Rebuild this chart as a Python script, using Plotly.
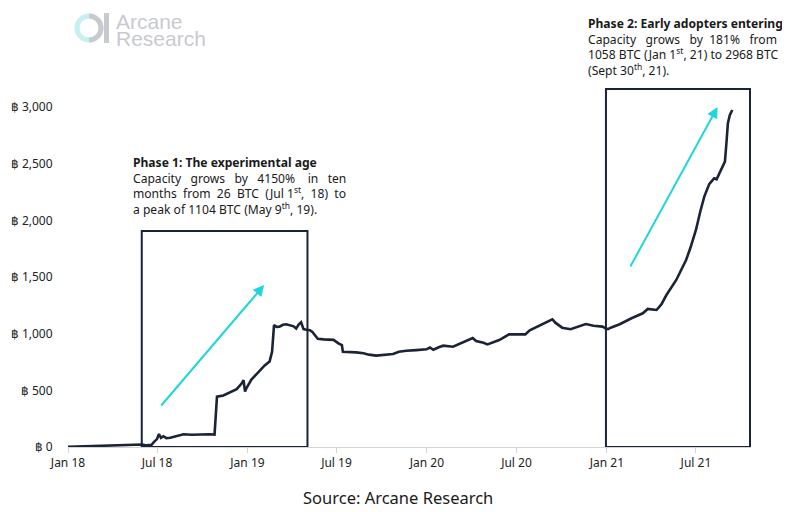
import re
import plotly.graph_objects as go

# ---------------- data ----------------
dates = [
    "2018-01-01", "2018-01-20", "2018-02-10", "2018-03-05", "2018-03-25", "2018-04-15",
    "2018-05-01", "2018-05-20", "2018-06-01", "2018-06-10", "2018-06-20", "2018-06-25",
    "2018-07-01", "2018-07-05", "2018-07-09", "2018-07-14", "2018-07-20", "2018-07-28",
    "2018-08-10", "2018-08-24", "2018-09-10", "2018-09-25", "2018-10-04", "2018-10-15",
    "2018-10-26", "2018-10-29", "2018-10-31", "2018-11-13", "2018-11-27", "2018-12-10",
    "2018-12-20", "2018-12-24", "2018-12-27", "2018-12-30", "2019-01-09", "2019-01-18",
    "2019-01-26", "2019-02-05", "2019-02-15", "2019-02-20", "2019-02-24", "2019-03-01",
    "2019-03-07", "2019-03-14", "2019-03-21", "2019-03-30", "2019-04-05", "2019-04-10",
    "2019-04-15", "2019-04-20", "2019-04-25", "2019-05-01", "2019-05-08", "2019-05-13",
    "2019-05-20", "2019-05-24", "2019-06-05", "2019-06-25", "2019-07-05", "2019-07-12",
    "2019-07-14", "2019-07-28", "2019-08-10", "2019-08-25", "2019-09-05", "2019-09-20",
    "2019-10-05", "2019-10-24", "2019-11-05", "2019-11-20", "2019-12-10", "2019-12-31",
    "2020-01-07", "2020-01-14", "2020-01-25", "2020-02-03", "2020-02-23", "2020-03-10",
    "2020-03-25", "2020-04-03", "2020-04-10", "2020-04-25", "2020-05-03", "2020-05-15",
    "2020-05-27", "2020-06-16", "2020-07-01", "2020-07-19", "2020-07-28", "2020-08-12",
    "2020-08-28", "2020-09-12", "2020-09-18", "2020-10-02", "2020-10-19", "2020-11-05",
    "2020-11-19", "2020-12-05", "2020-12-23", "2020-12-30", "2021-01-03", "2021-01-10",
    "2021-01-27", "2021-02-20", "2021-03-15", "2021-03-25", "2021-04-12", "2021-04-22",
    "2021-05-02", "2021-05-22", "2021-06-11", "2021-06-20", "2021-07-01", "2021-07-10",
    "2021-07-18", "2021-07-28", "2021-08-07", "2021-08-12", "2021-08-20", "2021-08-29",
    "2021-09-01", "2021-09-04", "2021-09-08", "2021-09-13",
]
capacity_btc = [
    1, 3, 5, 9, 12, 17,
    20, 21, 22, 14, 20, 45,
    70, 115, 80, 95, 78, 82,
    95, 112, 108, 112, 108, 113,
    110, 300, 444, 455, 480, 510,
    560, 590, 490, 520, 595, 640,
    680, 720, 755, 840, 1075, 1060,
    1062, 1078, 1083, 1070, 1065, 1045,
    1080, 1100, 1040, 1035, 1030, 1015,
    980, 955, 950, 945, 915, 900,
    840, 840, 835, 828, 815, 806,
    812, 821, 840, 850, 855, 862,
    878, 858, 880, 894, 885, 915,
    945, 962, 935, 920, 905, 925,
    944, 994, 995, 994, 1030, 1062,
    1095, 1127, 1097, 1053, 1039, 1065,
    1085, 1070, 1062, 1045, 1040, 1055,
    1083, 1136, 1180, 1218, 1209, 1260,
    1341, 1474, 1650, 1760, 1915, 2080,
    2209, 2320, 2371, 2362, 2440, 2518,
    2680, 2856, 2930, 2974,
]

y_tickvals = [0, 500, 1000, 1500, 2000, 2500, 3000]
y_ticktext = ["฿ 0", "฿ 500", "฿ 1,000", "฿ 1,500", "฿ 2,000", "฿ 2,500", "฿ 3,000"]
x_tickvals = ["2018-01-01", "2018-07-01", "2019-01-01", "2019-07-01",
              "2020-01-01", "2020-07-01", "2021-01-01", "2021-07-01"]
x_ticktext = ["Jan 18", "Jul 18", "Jan 19", "Jul 19", "Jan 20", "Jul 20", "Jan 21", "Jul 21"]

phase1_box = ["2018-05-31", "2019-05-03", 0, 1906]
phase2_box = ["2020-12-30", "2021-10-19", 0, 3159]
arrow1 = ["2018-07-07", 353, "2019-02-04", 1429]
arrow2 = ["2021-02-16", 1579, "2021-08-14", 3000]

phase1_title = "Phase 1: The experimental age"
phase1_lines = ["Capacity grows by 4150% in ten",
                "months from 26 BTC (Jul 1<sup>st</sup>, 18) to",
                "a peak of 1104 BTC (May 9<sup>th</sup>, 19)."]
phase2_title = "Phase 2: Early adopters entering"
phase2_lines = ["Capacity grows by 181% from",
                "1058 BTC (Jan 1<sup>st</sup>, 21) to 2968 BTC",
                "(Sept 30<sup>th</sup>, 21)."]
source_text = "Source: Arcane Research"
logo_lines = ["Arcane", "Research"]

# ---------------- layout helpers ----------------
# page is drawn with an 8px body margin, so the figure is shrunk by that amount
OFF = 8
SW, SH = 790, 512                       # screen size
L, R, T, B = 68, 751, 84, 447           # plot area on screen
W, H = SW - OFF, SH - OFF


def px(x):
    return (x - L) / (R - L)


def py(y):
    return (B - y) / (B - T)


# approximate Noto Sans advance widths (per 1000 em) for justification
WID = {" ": 260, "a": 561, "b": 615, "c": 480, "d": 615, "e": 564, "f": 344, "g": 615,
       "h": 618, "i": 258, "j": 258, "k": 548, "l": 258, "m": 937, "n": 618, "o": 605,
       "p": 615, "r": 413, "s": 479, "t": 361, "u": 618, "v": 508, "w": 781, "x": 529,
       "y": 510, "B": 633, "T": 556, "C": 632, "J": 270, "M": 907, "S": 549, "(": 296,
       ")": 296, "%": 826, ",": 258, ".": 268}


def measure(word, size):
    total = 0.0
    for part, sup in re.findall(r"([^<]+)|<sup>(.*?)</sup>", word):
        if part:
            total += sum(WID.get(c, 572) for c in part)
        if sup:
            total += 0.7 * sum(WID.get(c, 572) for c in sup)
    return total * size / 1000


def justify(line, width, size):
    words = line.split(" ")
    nat = sum(measure(w, size) for w in words)
    gaps = len(words) - 1
    sp = WID[" "] * size / 1000
    n = max(gaps, (width - nat) / sp)
    out = words[0]
    for i in range(gaps):
        c = max(1, round((i + 1) * n / gaps) - round(i * n / gaps))
        out += "\u00a0" * c + words[i + 1]
    return out


NAVY = "#1b2337"
CYAN = "#1fd6d8"
LOGO_GRAY = "#c9cad0"
TXT = "#1a1a1a"

fig = go.Figure()
fig.add_trace(go.Scatter(
    x=dates, y=capacity_btc, mode="lines",
    line=dict(color=NAVY, width=2.6), hoverinfo="skip", showlegend=False,
))

shapes = []
for bx in (phase1_box, phase2_box):
    shapes.append(dict(type="rect", xref="x", yref="y", x0=bx[0], x1=bx[1], y0=bx[2], y1=bx[3],
                       line=dict(color=NAVY, width=2), fillcolor="rgba(0,0,0,0)", layer="above"))

# logo: ring (cyan left, gray right) + vertical bar
cx, cy, r = 89.0, 28.0, 12.0
k = 0.5523 * r
shapes.append(dict(type="circle", xref="paper", yref="paper",
                   x0=px(cx - r), x1=px(cx + r), y0=py(cy + r), y1=py(cy - r),
                   line=dict(color="#c6f0f2", width=5)))
arc = (f"M {px(cx)},{py(cy - r)} "
       f"C {px(cx + k)},{py(cy - r)} {px(cx + r)},{py(cy - k)} {px(cx + r)},{py(cy)} "
       f"C {px(cx + r)},{py(cy + k)} {px(cx + k)},{py(cy + r)} {px(cx)},{py(cy + r)}")
shapes.append(dict(type="path", xref="paper", yref="paper", path=arc,
                   line=dict(color=LOGO_GRAY, width=5)))
shapes.append(dict(type="rect", xref="paper", yref="paper",
                   x0=px(104), x1=px(109), y0=py(43), y1=py(13),
                   line=dict(width=0), fillcolor=LOGO_GRAY))

annotations = []
for ar in (arrow1, arrow2):
    annotations.append(dict(x=ar[2], y=ar[3], ax=ar[0], ay=ar[1], xref="x", yref="y",
                            axref="x", ayref="y", text="", showarrow=True,
                            arrowhead=2, arrowsize=1.1, arrowwidth=2, arrowcolor=CYAN))


def text_block(x0, width, y_top, title, lines, size):
    body = [justify(ln, width, size) if i < len(lines) - 1 else ln
            for i, ln in enumerate(lines)]
    annotations.append(dict(x=px(x0), y=py(y_top), xref="paper", yref="paper",
                            xanchor="left", yanchor="top", align="left", showarrow=False,
                            borderpad=0,
                            text="<br>".join([f"<b>{title}</b>"] + body),
                            font=dict(family="Noto Sans", size=size, color=TXT)))


text_block(132, 213, 153, phase1_title, phase1_lines, 12.1)
text_block(587, 190, 14, phase2_title, phase2_lines, 12.1)

annotations.append(dict(x=px(398), y=py(497), xref="paper", yref="paper", xanchor="center",
                        yanchor="middle", showarrow=False, text=source_text,
                        font=dict(family="Noto Sans", size=16.5, color=TXT)))
for i, t in enumerate(logo_lines):
    annotations.append(dict(x=px(115), y=py(21.5 + 17 * i), xref="paper", yref="paper",
                            xanchor="left", yanchor="middle", showarrow=False, text=t,
                            borderpad=0,
                            font=dict(family="Liberation Sans", size=21, color=LOGO_GRAY)))

fig.update_layout(
    width=W, height=H,
    margin=dict(l=L - OFF, r=SW - R, t=T - OFF, b=SH - B, pad=0, autoexpand=False),
    paper_bgcolor="white", plot_bgcolor="white",
    shapes=shapes, annotations=annotations,
    xaxis=dict(
        type="date", range=["2018-01-01", "2021-10-21"],
        tickvals=x_tickvals, ticktext=x_ticktext,
        showgrid=False, zeroline=False, automargin=False,
        showline=True, linecolor="#d4d4d4", linewidth=1,
        ticks="outside", ticklen=5, tickcolor="#d4d4d4",
        tickfont=dict(family="Noto Sans", size=12, color="#222222"),
    ),
    yaxis=dict(
        range=[0, (B - T) * 3000 / (B - 107)], tickvals=y_tickvals, ticktext=y_ticktext,
        showgrid=False, zeroline=False, showline=False, automargin=False,
        ticks="outside", ticklen=12, tickcolor="rgba(0,0,0,0)",
        tickfont=dict(family="Noto Sans", size=12, color="#222222"),
    ),
)

fig.write_html("out.html")
